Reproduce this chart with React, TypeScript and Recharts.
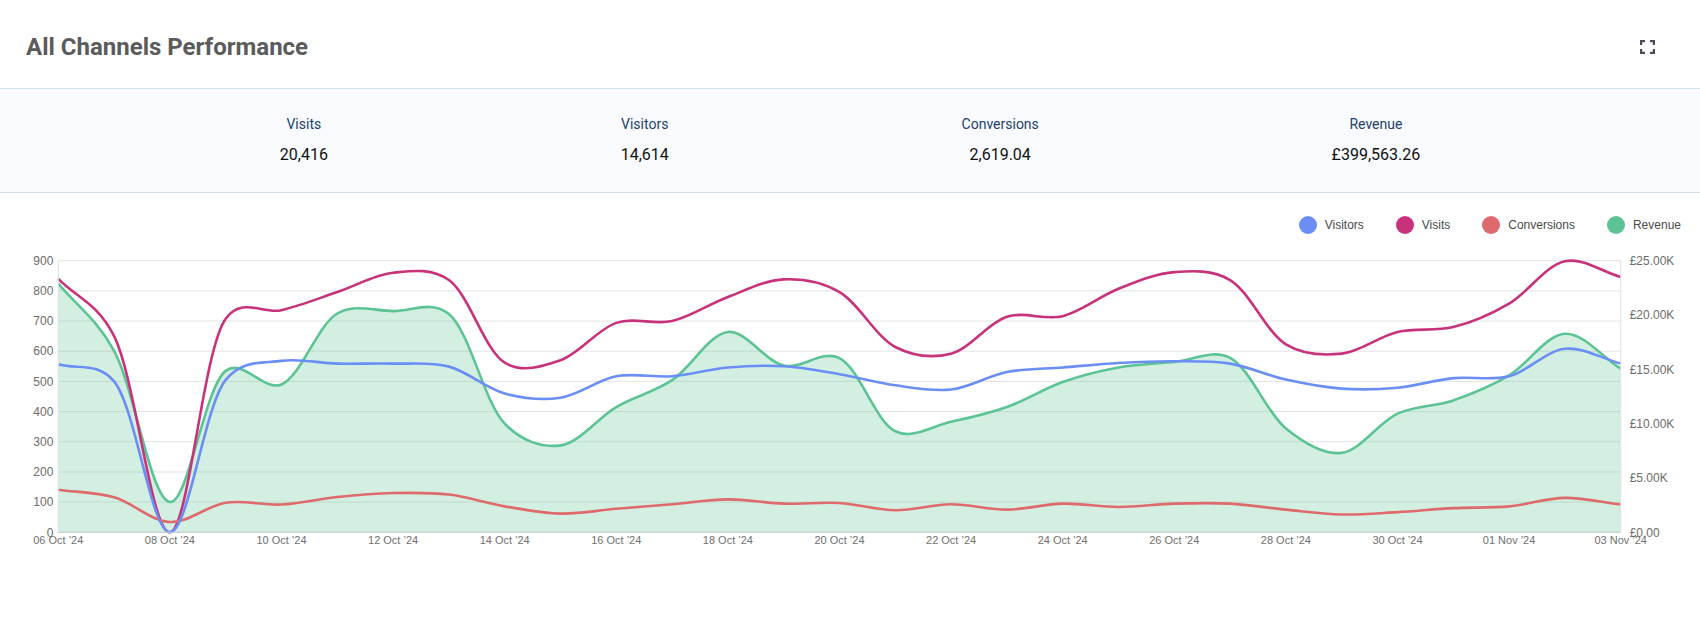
import { Area, CartesianGrid, ComposedChart, Line, XAxis, YAxis } from "recharts"

const dates = [
  "06 Oct ’24", "07 Oct ’24", "08 Oct ’24", "09 Oct ’24", "10 Oct ’24", "11 Oct ’24", "12 Oct ’24",
  "13 Oct ’24", "14 Oct ’24", "15 Oct ’24", "16 Oct ’24", "17 Oct ’24", "18 Oct ’24", "19 Oct ’24",
  "20 Oct ’24", "21 Oct ’24", "22 Oct ’24", "23 Oct ’24", "24 Oct ’24", "25 Oct ’24", "26 Oct ’24",
  "27 Oct ’24", "28 Oct ’24", "29 Oct ’24", "30 Oct ’24", "31 Oct ’24", "01 Nov ’24", "02 Nov ’24",
  "03 Nov ’24",
]

const visits = [
  840, 650, 0, 708, 736, 796, 860, 836, 562, 570, 694, 700, 780, 838, 796,
  614, 592, 714, 716, 807, 862, 836, 623, 592, 664, 680, 758, 898, 846,
]

const visitors = [
  557, 500, 0, 505, 568, 559, 559, 549, 460, 446, 517, 517, 546, 550, 524,
  487, 473, 531, 546, 561, 567, 559, 506, 476, 479, 511, 517, 608, 559,
]

const conversions = [
  141, 116, 34, 98, 92, 117, 130, 125, 86, 62, 78, 93, 109, 95, 97,
  73, 93, 75, 95, 84, 95, 95, 75, 59, 67, 80, 86, 114, 92,
]

const revenue = [
  22890, 16700, 2790, 14860, 13610, 20140, 20360, 20100, 10000, 8000, 11530, 14000, 18440, 15360, 16030,
  9300, 10170, 11530, 13830, 15170, 15670, 16060, 9560, 7310, 10920, 12140, 14440, 18280, 15060,
]

const countTicks = [0, 100, 200, 300, 400, 500, 600, 700, 800, 900]
const revenueTicks = [0, 5000, 10000, 15000, 20000, 25000]

const totals = [
  { label: "Visits", value: "20,416" },
  { label: "Visitors", value: "14,614" },
  { label: "Conversions", value: "2,619.04" },
  { label: "Revenue", value: "£399,563.26" },
]

const series = [
  { name: "Visitors", color: "#6b8ef5" },
  { name: "Visits", color: "#c8327a" },
  { name: "Conversions", color: "#de6a6c" },
  { name: "Revenue", color: "#5cc494" },
]

const data = dates.map((date, i) => ({
  date,
  Visits: visits[i],
  Visitors: visitors[i],
  Conversions: conversions[i],
  Revenue: revenue[i],
}))

const colorOf = (name: string) => series.find((s) => s.name === name)!.color

// Catmull-Rom curve with a soft parameterisation (alpha 0.25): passes through
// every point, bends a little past it, but does not shoot up after a deep dip.
// Ends use a mirrored phantom point so the line leaves the edge with a slope.
function smoothCurve(context: any) {
  const alpha = 0.25
  let pts: number[][] = []
  let line = NaN
  const pw = (a: number[], b: number[]) => {
    const dx = a[0] - b[0]
    const dy = a[1] - b[1]
    return Math.pow(dx * dx + dy * dy, alpha)
  }
  return {
    areaStart() {
      line = 0
    },
    areaEnd() {
      line = NaN
    },
    lineStart() {
      pts = []
    },
    lineEnd() {
      const n = pts.length
      if (n > 0) {
        if (line) context.lineTo(pts[0][0], pts[0][1])
        else context.moveTo(pts[0][0], pts[0][1])
        for (let i = 0; i < n - 1; i++) {
          const p1 = pts[i]
          const p2 = pts[i + 1]
          const p0 = i > 0 ? pts[i - 1] : [2 * p1[0] - p2[0], 2 * p1[1] - p2[1]]
          const p3 = i + 2 < n ? pts[i + 2] : [2 * p2[0] - p1[0], 2 * p2[1] - p1[1]]
          const l01_2a = pw(p0, p1)
          const l12_2a = pw(p1, p2)
          const l23_2a = pw(p2, p3)
          const l01_a = Math.sqrt(l01_2a)
          const l12_a = Math.sqrt(l12_2a)
          const l23_a = Math.sqrt(l23_2a)
          let c1x = p1[0]
          let c1y = p1[1]
          let c2x = p2[0]
          let c2y = p2[1]
          if (l01_a > 1e-12) {
            const a = 2 * l01_2a + 3 * l01_a * l12_a + l12_2a
            const m = 3 * l01_a * (l01_a + l12_a)
            c1x = (p1[0] * a - p0[0] * l12_2a + p2[0] * l01_2a) / m
            c1y = (p1[1] * a - p0[1] * l12_2a + p2[1] * l01_2a) / m
          }
          if (l23_a > 1e-12) {
            const b = 2 * l23_2a + 3 * l23_a * l12_a + l12_2a
            const m = 3 * l23_a * (l23_a + l12_a)
            c2x = (p2[0] * b + p1[0] * l23_2a - p3[0] * l12_2a) / m
            c2y = (p2[1] * b + p1[1] * l23_2a - p3[1] * l12_2a) / m
          }
          context.bezierCurveTo(c1x, c1y, c2x, c2y, p2[0], p2[1])
        }
      }
      if (line || (line !== 0 && n === 1)) context.closePath()
      line = 1 - line
    },
    point(x: number, y: number) {
      pts.push([+x, +y])
    },
  }
}

const axisFont = "Helvetica, Arial, 'Liberation Sans', sans-serif"
const tickStyle = { fill: "#6b6b6b", fontSize: 12, fontFamily: axisFont }

function ExpandIcon() {
  return (
    <svg width={15} height={14} viewBox="0 0 15 14" style={{ position: "absolute", left: 1640, top: 40 }}>
      <g fill="none" stroke="#4b4b58" strokeWidth={2.2}>
        <path d="M1.1 5 V1.1 H5" />
        <path d="M10 1.1 H13.9 V5" />
        <path d="M13.9 9 V12.9 H10" />
        <path d="M5 12.9 H1.1 V9" />
      </g>
    </svg>
  )
}

export default function App() {
  return (
    <div
      style={{
        position: "absolute",
        left: 0,
        top: 0,
        width: 1700,
        height: 644,
        background: "#ffffff",
        fontFamily: "Roboto, 'Noto Sans', sans-serif",
        overflow: "hidden",
      }}
    >
      <div
        style={{
          position: "absolute",
          left: 26,
          top: 33,
          fontSize: 24,
          lineHeight: "29px",
          fontWeight: 700,
          color: "#5b5b5b",
        }}
      >
        All Channels Performance
      </div>
      <ExpandIcon />

      <div
        style={{
          position: "absolute",
          left: 0,
          top: 88,
          width: 1700,
          height: 103,
          background: "#f8fafd",
          borderTop: "1px solid #d2e1f1",
          borderBottom: "1px solid #d2e1f1",
          display: "flex",
          justifyContent: "space-evenly",
        }}
      >
        {totals.map((t) => (
          <div
            key={t.label}
            style={{
              display: "flex",
              flexDirection: "column",
              alignItems: "center",
              padding: "27px 13px 0",
            }}
          >
            <div style={{ fontSize: 14, lineHeight: "16px", color: "#233f6e" }}>{t.label}</div>
            <div style={{ fontSize: 16, lineHeight: "20px", color: "#111111", marginTop: 13 }}>{t.value}</div>
          </div>
        ))}
      </div>

      <div
        style={{
          position: "absolute",
          right: 19,
          top: 216,
          display: "flex",
          alignItems: "center",
          fontFamily: axisFont,
          fontSize: 12,
          color: "#4a4a4a",
        }}
      >
        {series.map((s, i) => (
          <div key={s.name} style={{ display: "flex", alignItems: "center", marginLeft: i === 0 ? 0 : 32 }}>
            <span
              style={{
                width: 18,
                height: 18,
                borderRadius: 9,
                background: s.color,
                display: "inline-block",
                marginRight: 8,
              }}
            />
            <span>{s.name}</span>
          </div>
        ))}
      </div>

      <div style={{ position: "absolute", left: 0, top: 240 }}>
        <ComposedChart width={1700} height={322.3} data={data} margin={{ top: 20.7, right: 0, bottom: 0, left: 0 }}>
          <CartesianGrid vertical={false} stroke="#e3e3e3" />
          <XAxis
            dataKey="date"
            scale="point"
            padding={{ left: 0, right: 0 }}
            interval={1}
            height={30}
            tickLine={false}
            tickSize={3}
            tickMargin={1}
            axisLine={{ stroke: "#cfcfcf" }}
            tick={{ ...tickStyle, fontSize: 11, fill: "#707070" }}
          />
          <YAxis
            width={58.3}
            domain={[0, 900]}
            ticks={countTicks}
            tickLine={false}
            tickSize={3}
            tickMargin={2}
            axisLine={{ stroke: "#e0e0e0" }}
            tick={tickStyle}
          />
          <YAxis
            yAxisId="right"
            orientation="right"
            width={79.3}
            domain={[0, 25000]}
            ticks={revenueTicks}
            tickLine={false}
            tickSize={6}
            tickMargin={3}
            axisLine={{ stroke: "#e0e0e0" }}
            tick={tickStyle}
            tickFormatter={(v: number) => `£${(v / 1000).toFixed(2)}${v === 0 ? "" : "K"}`}
          />
          <Area
            yAxisId="right"
            dataKey="Revenue"
            type={smoothCurve as any}
            stroke={colorOf("Revenue")}
            strokeWidth={2.6}
            fill={colorOf("Revenue")}
            fillOpacity={0.28}
            dot={false}
            activeDot={false}
            isAnimationActive={false}
          />
          <Line
            dataKey="Visits"
            type={smoothCurve as any}
            stroke={colorOf("Visits")}
            strokeWidth={2.6}
            dot={false}
            activeDot={false}
            isAnimationActive={false}
          />
          <Line
            dataKey="Conversions"
            type={smoothCurve as any}
            stroke={colorOf("Conversions")}
            strokeWidth={2.6}
            dot={false}
            activeDot={false}
            isAnimationActive={false}
          />
          <Line
            dataKey="Visitors"
            type={smoothCurve as any}
            stroke={colorOf("Visitors")}
            strokeWidth={2.6}
            dot={false}
            activeDot={false}
            isAnimationActive={false}
          />
        </ComposedChart>
      </div>
    </div>
  )
}
